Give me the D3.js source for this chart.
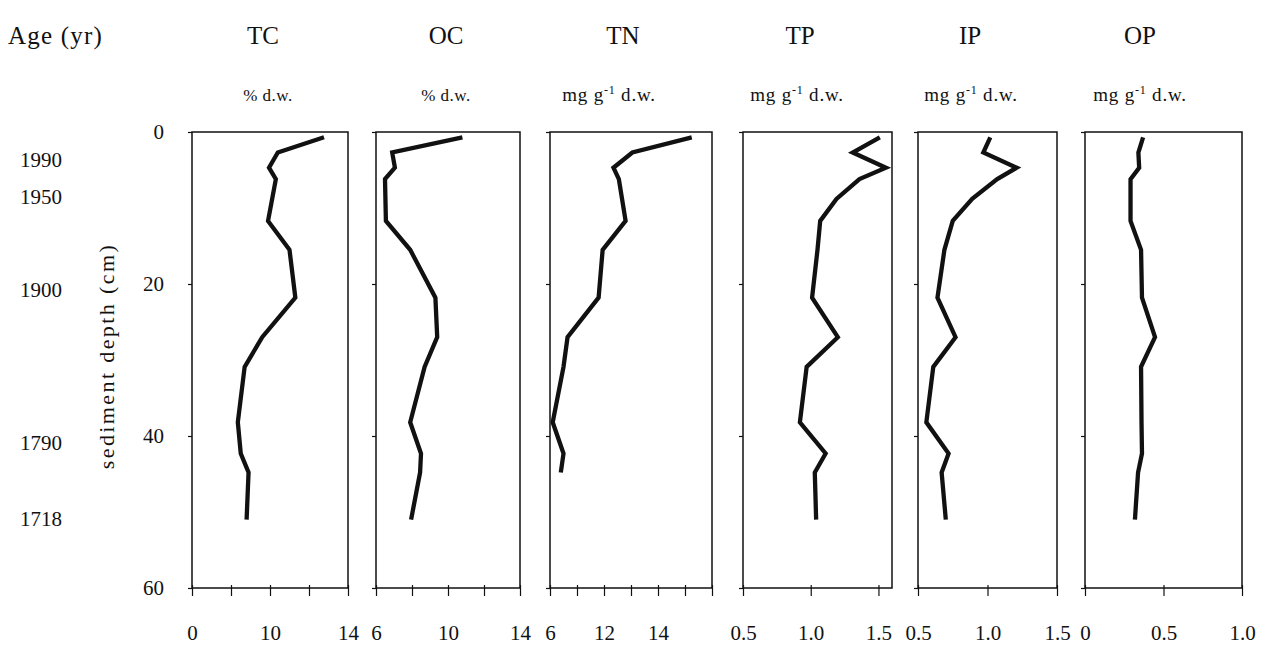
<!DOCTYPE html>
<html>
<head>
<meta charset="utf-8">
<script src="https://cdn.jsdelivr.net/npm/d3@7"></script>
<style>
  html, body { margin: 0; padding: 0; background: #fff; }
  svg { display: block; }
  svg text { font-family: "Liberation Serif", "DejaVu Serif", serif; }
</style>
</head>
<body>
<div id="chart"></div>
<script>
// sample depths (cm), shared by all profiles
const depths = [0.7, 2.7, 4.7, 6.2, 8.8, 11.7, 15.5, 21.8, 27.0, 30.9, 38.2, 42.3, 44.8, 51.0];

// profiles (null = no sample plotted at that depth)
const tcValues = [12.77, 10.4, 9.95, 10.3, null, 9.9, 11.0, 11.3, 9.6, 8.7, 8.35, 8.5, 8.9, 8.8];
const ocValues = [10.8, 6.9, 7.05, 6.5, null, 6.55, 7.9, 9.3, 9.4, 8.7, 7.9, 8.5, 8.45, 7.95];
const tnValues = [16.5, 12.1, 10.7, 11.1, null, 11.6, 9.9, 9.6, 7.3, 7.0, 6.2, 7.0, 6.8, null];
const tpValues = [1.51, 1.31, 1.555, 1.36, 1.19, 1.07, 1.05, 1.01, 1.20, 0.97, 0.92, 1.11, 1.03, 1.04];
const ipValues = [1.02, 0.97, 1.21, 1.07, 0.89, 0.75, 0.69, 0.64, 0.77, 0.61, 0.56, 0.72, 0.67, 0.70];
const opValues = [0.37, 0.34, 0.345, 0.29, null, 0.29, 0.357, 0.363, 0.446, 0.357, 0.36, 0.363, 0.338, 0.318];

// headers and units
const panelNames = ["TC", "OC", "TN", "TP", "IP", "OP"];
const panelUnits = ["% d.w.", "% d.w.", "mg g-1 d.w.", "mg g-1 d.w.", "mg g-1 d.w.", "mg g-1 d.w."];

// x axes: domain, minor tick marks, printed labels and where they sit
const xDomains = [[6, 14], [6, 14], [6, 18], [0.5, 1.6], [0.5, 1.5], [0, 1]];
const xTicks = [
    [6, 8, 10, 12, 14],
    [6, 8, 10, 12, 14],
    [6, 8, 10, 12, 14, 16, 18],
    [0.5, 1.0, 1.5],
    [0.5, 1.0, 1.5],
    [0, 0.5, 1.0]
];
const xLabelAt = [[6, 10, 14], [6, 10, 14], [6, 10, 14], [0.5, 1.0, 1.5], [0.5, 1.0, 1.5], [0, 0.5, 1.0]];
const xLabelText = [
    ["0", "10", "14"],
    ["6", "10", "14"],
    ["6", "12", "14"],
    ["0.5", "1.0", "1.5"],
    ["0.5", "1.0", "1.5"],
    ["0", "0.5", "1.0"]
];

// depth axis and age scale
const depthTicks = [0, 20, 40, 60];
const ageLabels = ["1990", "1950", "1900", "1790", "1718"];
const ageDepths = [3.7, 8.5, 20.7, 40.9, 50.9];

// 1. CHART CONFIGURATION
const CHART_CONFIG = {
    width: 1266,
    height: 659,
    top: 132,
    bottom: 588,
    panels: [[192, 348], [376, 520], [550, 712], [743, 892], [918, 1057], [1085, 1242]],
    headerX: [263, 446, 623, 800, 970, 1140],
    unitX: [268, 446, 609, 797, 971, 1140],
    headerY: 44,
    unitY: 101,
    labelY: 640,
    ink: "#111"
};

function renderProfiles() {
    const c = CHART_CONFIG;
    const svg = d3.select("#chart").append("svg")
        .attr("width", c.width)
        .attr("height", c.height);

    const y = d3.scaleLinear().domain([0, 60]).range([c.top, c.bottom]);
    const series = [tcValues, ocValues, tnValues, tpValues, ipValues, opValues];

    // --- left titles ---
    svg.append("text")
        .attr("x", 8).attr("y", c.headerY)
        .attr("font-size", 25).attr("letter-spacing", 1.2).attr("fill", c.ink)
        .text("Age (yr)");

    svg.append("g").selectAll("text")
        .data(ageLabels)
        .join("text")
        .attr("x", 20)
        .attr("y", (d, i) => y(ageDepths[i]))
        .attr("dy", "0.35em")
        .attr("font-size", 21).attr("fill", c.ink)
        .text(d => d);

    svg.append("text")
        .attr("transform", `translate(114,${(c.top + c.bottom) / 2 - 4}) rotate(-90)`)
        .attr("text-anchor", "middle")
        .attr("font-size", 22).attr("letter-spacing", 2.4).attr("fill", c.ink)
        .text("sediment depth (cm)");

    // depth labels, left of the first panel
    const depthAxis = svg.append("g")
        .attr("transform", `translate(${c.panels[0][0]},0)`)
        .call(d3.axisLeft(y).tickValues(depthTicks).tickSize(0).tickPadding(28));
    depthAxis.attr("font-family", null);
    depthAxis.select(".domain").remove();
    depthAxis.selectAll("text")
        .attr("font-size", 21).attr("fill", c.ink);

    // --- one profile per panel ---
    c.panels.forEach((ext, i) => {
        const x = d3.scaleLinear().domain(xDomains[i]).range(ext);
        const g = svg.append("g");

        g.append("text")
            .attr("x", c.headerX[i]).attr("y", c.headerY)
            .attr("text-anchor", "middle")
            .attr("font-size", 25).attr("fill", c.ink)
            .text(panelNames[i]);

        const unit = g.append("text")
            .attr("x", c.unitX[i]).attr("y", c.unitY)
            .attr("text-anchor", "middle")
            .attr("font-size", 17).attr("fill", c.ink);
        if (panelUnits[i].startsWith("mg")) {
            unit.attr("font-size", 19).attr("letter-spacing", 0.8);
            unit.append("tspan").text("mg g");
            unit.append("tspan").attr("dy", -7).attr("font-size", 12).text("-1");
            unit.append("tspan").attr("dy", 7).text(" d.w.");
        } else {
            unit.attr("letter-spacing", 0.5).text(panelUnits[i]);
        }

        // frame
        g.append("rect")
            .attr("x", ext[0]).attr("y", c.top)
            .attr("width", ext[1] - ext[0]).attr("height", c.bottom - c.top)
            .attr("fill", "none").attr("stroke", c.ink).attr("stroke-width", 1.5);

        // bottom tick marks
        const bx = g.append("g")
            .attr("transform", `translate(0,${c.bottom})`)
            .call(d3.axisBottom(x).tickValues(xTicks[i]).tickSize(8).tickFormat(""));
        bx.select(".domain").remove();
        bx.selectAll("line").attr("stroke", c.ink).attr("stroke-width", 1.2)
            .attr("y1", -3);

        // left tick marks
        const lx = g.append("g")
            .attr("transform", `translate(${ext[0]},0)`)
            .call(d3.axisLeft(y).tickValues(depthTicks).tickSize(4).tickFormat(""));
        lx.select(".domain").remove();
        lx.selectAll("line").attr("stroke", c.ink).attr("stroke-width", 1.2);

        // printed axis labels
        const lab = g.append("g")
            .attr("transform", `translate(0,${c.labelY})`)
            .call(d3.axisBottom(x).tickValues(xLabelAt[i]).tickSize(0).tickPadding(0)
                .tickFormat((d, k) => xLabelText[i][k]));
        lab.attr("font-family", null);
        lab.select(".domain").remove();
        lab.selectAll("text")
            .attr("font-size", 21).attr("fill", c.ink)
            .attr("dy", "0");

        // profile line
        const pts = depths.map((d, k) => ({ depth: d, v: series[i][k] }))
            .filter(p => p.v != null);
        const line = d3.line().x(p => x(p.v)).y(p => y(p.depth));
        g.append("path")
            .datum(pts)
            .attr("d", line)
            .attr("fill", "none")
            .attr("stroke", c.ink)
            .attr("stroke-width", 4.3)
            .attr("stroke-linejoin", "miter")
            .attr("stroke-linecap", "butt");
    });
}

function init() {
    renderProfiles();
}

document.addEventListener("DOMContentLoaded", init);
</script>
</body>
</html>
